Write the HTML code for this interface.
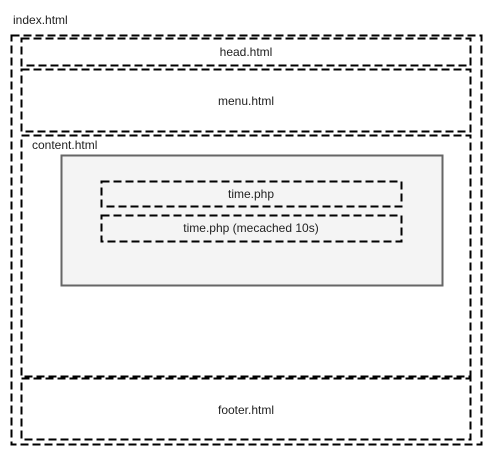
<!DOCTYPE html>
<html><head><meta charset="utf-8"><style>
html,body{margin:0;padding:0;background:#fff;}
svg{display:block}
text{font-family:"Liberation Sans",sans-serif;font-size:12px;fill:#222;}
</style></head><body>
<svg width="492" height="457" viewBox="0 0 492 457" xmlns="http://www.w3.org/2000/svg">
<g fill="none" stroke="#000" stroke-width="2" stroke-dasharray="8 4">
<rect x="11.5" y="35.5" width="470" height="409"/>
<rect x="21.5" y="38.5" width="449" height="27"/>
<rect x="21.5" y="69.5" width="449" height="62"/>
<rect x="21.5" y="135.5" width="449" height="241"/>
<rect x="21.5" y="378.5" width="449" height="61"/>
</g>
<rect x="61.5" y="155.5" width="381" height="130" fill="#f4f4f4" stroke="#666" stroke-width="2"/>
<g fill="none" stroke="#000" stroke-width="2" stroke-dasharray="8 4">
<rect x="101.5" y="181.5" width="300" height="25"/>
<rect x="101.5" y="215.5" width="300" height="26"/>
</g>
<text x="13" y="24">index.html</text>
<text x="246" y="56" text-anchor="middle">head.html</text>
<text x="246" y="105" text-anchor="middle">menu.html</text>
<text x="32" y="149">content.html</text>
<text x="251" y="198" text-anchor="middle">time.php</text>
<text x="251" y="232" text-anchor="middle">time.php (mecached 10s)</text>
<text x="246" y="414" text-anchor="middle">footer.html</text>
</svg>
</body></html>
